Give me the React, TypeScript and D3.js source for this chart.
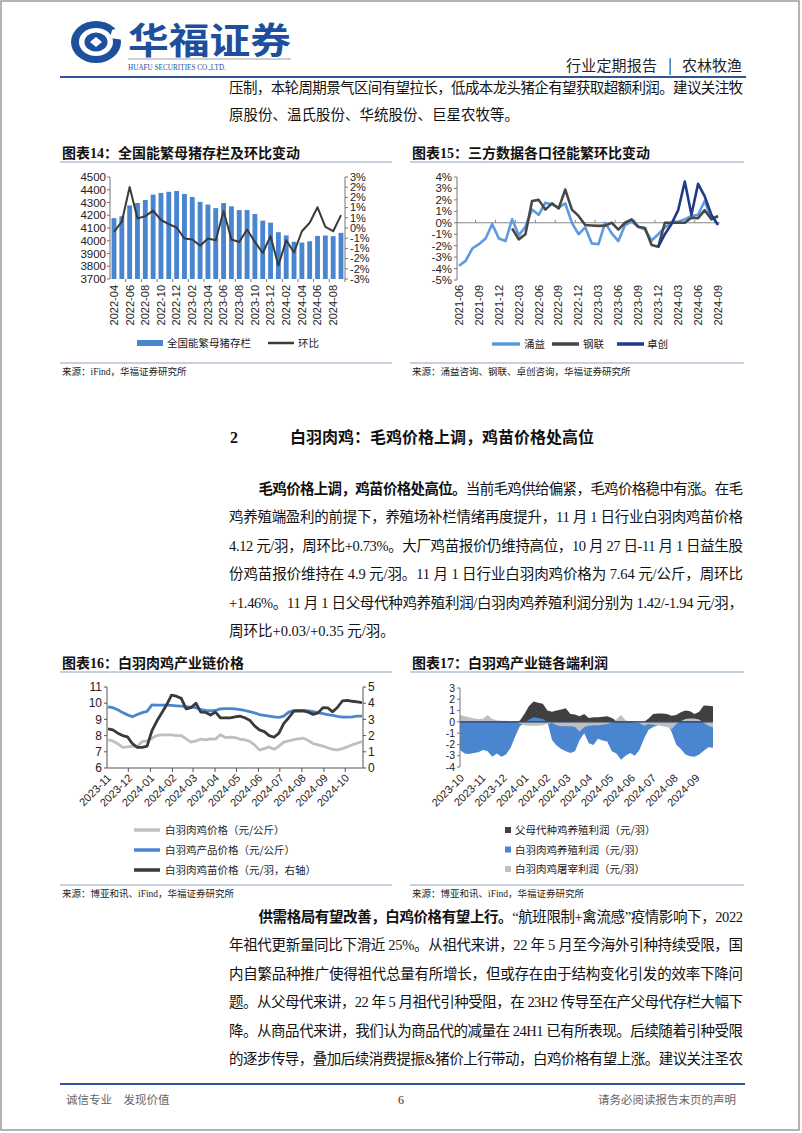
import React from 'react';
import * as d3 from 'd3';

const SANS = "'Liberation Sans', Arial, sans-serif";
const CJK = "'Noto Sans CJK SC', sans-serif";
const BODY = "'Liberation Serif', 'Noto Sans CJK SC', serif";

const BLUE = '#4a86d0';
const LIGHTBLUE = '#5b9be0';
const DARK = '#3a3a3a';
const NAVY = '#1f3c8c';
const GREY = '#bfbfbf';
const RULE = '#8ea3c2';

// ---------- Chart 14 ----------
const sowMonths = ['2022-04','2022-05','2022-06','2022-07','2022-08','2022-09','2022-10','2022-11','2022-12',
  '2023-01','2023-02','2023-03','2023-04','2023-05','2023-06','2023-07','2023-08','2023-09','2023-10','2023-11','2023-12',
  '2024-01','2024-02','2024-03','2024-04','2024-05','2024-06','2024-07','2024-08','2024-09'];
const sowStock = [4177,4192,4277,4296,4320,4362,4375,4384,4390,4367,4343,4305,4284,4256,4296,4270,4240,4241,4210,4158,4142,4067,4042,3992,3986,3996,4038,4041,4036,4062];
const sowMoM = [-0.23,0.37,2.41,0.56,0.70,1.02,0.47,0.23,0.03,-0.62,-0.68,-1.04,-0.62,-0.72,1.0,-0.68,-0.82,-0.09,-0.82,-1.47,-0.48,-2.21,-0.72,-1.44,-0.19,0.31,1.22,0.07,-0.19,0.76];
const sowTickLabels = ['2022-04','2022-06','2022-08','2022-10','2022-12','2023-02','2023-04','2023-06','2023-08','2023-10','2023-12','2024-02','2024-04','2024-06','2024-08'];
const sowLeftTicks = [3700,3800,3900,4000,4100,4200,4300,4400,4500];
const sowRightTicks = [3,2.4,1.8,1.2,0.6,0,-0.6,-1.2,-1.8,-2.4,-3];
const sowRightLabels = ['3%','2%','2%','1%','1%','0%','-1%','-1%','-2%','-2%','-3%'];

// ---------- Chart 15 ----------
const thirdMonths = ['2021-06','2021-07','2021-08','2021-09','2021-10','2021-11','2021-12',
  '2022-01','2022-02','2022-03','2022-04','2022-05','2022-06','2022-07','2022-08','2022-09','2022-10','2022-11','2022-12',
  '2023-01','2023-02','2023-03','2023-04','2023-05','2023-06','2023-07','2023-08','2023-09','2023-10','2023-11','2023-12',
  '2024-01','2024-02','2024-03','2024-04','2024-05','2024-06','2024-07','2024-08','2024-09'];
const yongyi = [-3.76,-3.33,-2.25,-1.87,-1.38,-0.12,-1.38,-1.6,0.3,-1.1,-0.35,1.15,0.7,1.75,1.6,1.33,1.7,0.0,-1.0,-0.4,
  -1.8,-1.87,0.0,-0.93,-1.6,-0.2,0.1,-0.35,-0.6,-1.55,-1.0,-0.4,0.0,0.1,0.3,0.6,0.7,1.9,0.4,0.5];
const ganglian: (number | null)[] = [null,null,null,null,null,null,null,null,-0.5,-1.45,-1.0,1.9,2.0,1.15,1.7,1.25,2.9,1.15,0.6,-0.2,
  -0.24,-0.27,-0.25,0.0,-0.6,0.0,0.3,-0.35,-0.45,-1.95,-2.1,0.0,0.0,0.0,0.0,0.45,0.4,1.1,0.3,0.6];
const zhuochuang: (number | null)[] = [null,null,null,null,null,null,null,null,null,null,null,null,null,null,null,null,null,null,null,null,
  null,null,null,null,null,null,null,null,null,null,-2.1,-1.0,-0.1,1.1,3.6,0.7,3.4,2.3,0.7,-0.2];
const thirdTickLabels = ['2021-06','2021-09','2021-12','2022-03','2022-06','2022-09','2022-12','2023-03','2023-06','2023-09','2023-12','2024-03','2024-06','2024-09'];
const thirdYTicks = [4,3,2,1,0,-1,-2,-3,-4,-5];

// ---------- Chart 16 (weekly) ----------
const chickMonthLabels = ['2023-11','2023-12','2024-01','2024-02','2024-03','2024-04','2024-05','2024-06','2024-07','2024-08','2024-09','2024-10'];
const broilerPrice = [7.73,7.67,7.5,7.27,7.3,7.35,7.33,7.63,7.67,7.84,8.0,8.04,8.04,8.04,8.0,8.0,7.8,7.6,7.67,7.78,7.73,7.8,7.78,8.05,7.88,7.9,7.88,7.78,7.73,7.65,
  7.43,7.1,7.2,7.3,7.15,7.35,7.6,7.67,7.75,7.8,7.84,7.7,7.5,7.43,7.35,7.25,7.15,7.12,7.2,7.3,7.43,7.53,7.63];
const productPrice = [9.78,9.72,9.6,9.42,9.28,9.16,9.3,9.42,9.5,9.9,9.88,9.88,9.88,9.86,9.84,9.82,9.78,9.76,9.72,9.6,9.55,9.52,9.55,9.65,9.67,9.67,9.65,9.6,9.55,9.48,
  9.4,9.3,9.25,9.2,9.15,9.12,9.2,9.45,9.55,9.56,9.55,9.52,9.48,9.42,9.35,9.3,9.25,9.18,9.14,9.14,9.16,9.2,9.2];
const chickPrice = [2.41,2.35,2.15,2.0,1.92,1.5,1.27,1.27,1.35,2.3,2.9,3.4,3.9,4.5,4.43,4.3,3.65,3.73,4.0,3.45,3.43,3.27,3.45,3.1,3.1,3.1,3.15,3.2,3.1,2.95,
  2.6,2.35,2.25,2.0,1.9,2.15,2.75,3.1,3.5,3.52,3.53,3.45,3.31,3.4,3.73,3.71,3.47,3.75,4.15,4.18,4.12,4.08,4.04];
const chickLeftTicks = [6,7,8,9,10,11];
const chickRightTicks = [0,1,2,3,4,5];

// ---------- Chart 17 (weekly) ----------
const profitMonthLabels = ['2023-10','2023-11','2023-12','2024-01','2024-02','2024-03','2024-04','2024-05','2024-06','2024-07','2024-08','2024-09'];
const parentProfit = [0,0,0,0,0,0,0,0,0,0,0,0,0,0.1,0.7,1.4,1.8,1.7,1.6,1.0,0.9,1.0,1.1,1.2,0.7,0.65,0.5,0.7,0.35,0.4,
  0.4,0.45,0.5,0.35,0.1,0.05,0.05,0.05,0,0,0,0.3,0.7,0.75,0.75,0.7,0.55,0.6,0.85,1.0,0.95,0.7,0.9,1.45,1.42,1.38];
const broilerProfit = [-2.5,-2.8,-2.85,-2.75,-2.7,-2.5,-2.6,-3.1,-2.8,-3.1,-2.9,-2.3,-1.3,-0.4,-0.1,0.2,0.4,0.35,0.25,0.0,
  -1.6,-2.1,-2.4,-2.6,-2.75,-2.6,-1.6,-1.0,-1.9,-2.05,-1.5,-1.65,-1.75,-2.6,-2.8,-3.35,-3.0,-2.75,-3.0,-2.5,
  -1.5,-0.7,-0.45,-0.3,-0.15,-0.1,-0.9,-2.0,-2.4,-2.9,-3.05,-3.1,-2.9,-2.55,-2.25,-2.3];
const slaughterProfit = [0.6,0.5,0.4,0.3,0.25,0.28,0.6,0.25,0.15,0.1,0.1,0.05,0.0,-0.15,-0.3,-0.35,-0.35,-0.35,-0.3,-0.2,
  -0.1,-0.3,-0.4,-0.4,-0.4,-0.45,-0.85,-0.45,-0.35,-0.3,-0.3,-0.25,-0.2,-0.05,0.2,0.6,0.15,0.0,-0.05,-0.1,
  -0.35,-0.2,-0.25,-0.3,-0.4,-0.45,-0.65,-0.2,0.05,0.25,0.3,0.3,0.2,-0.1,-0.35,-0.5];
const profitTicks = [3,2,1,0,-1,-2,-3,-4];

// ---------- Text ----------
const introLines = ['压制，本轮周期景气区间有望拉长，低成本龙头猪企有望获取超额利润。建议关注牧', '原股份、温氏股份、华统股份、巨星农牧等。'];
const p1Bold = '毛鸡价格上调，鸡苗价格处高位。';
const p1First = '当前毛鸡供给偏紧，毛鸡价格稳中有涨。在毛';
const p1Lines = [
  '鸡养殖端盈利的前提下，养殖场补栏情绪再度提升，11 月 1 日行业白羽肉鸡苗价格',
  '4.12 元/羽，周环比+0.73%。大厂鸡苗报价仍维持高位，10 月 27 日-11 月 1 日益生股',
  '份鸡苗报价维持在 4.9 元/羽。11 月 1 日行业白羽肉鸡价格为 7.64 元/公斤，周环比',
  '+1.46%。11 月 1 日父母代种鸡养殖利润/白羽肉鸡养殖利润分别为 1.42/-1.94 元/羽，',
  '周环比+0.03/+0.35 元/羽。'];
const p2Bold = '供需格局有望改善，白鸡价格有望上行。';
const p2First = '“航班限制+禽流感”疫情影响下，2022';
const p2Lines = [
  '年祖代更新量同比下滑近 25%。从祖代来讲，22 年 5 月至今海外引种持续受限，国',
  '内自繁品种推广使得祖代总量有所增长，但或存在由于结构变化引发的效率下降问',
  '题。从父母代来讲，22 年 5 月祖代引种受阻，在 23H2 传导至在产父母代存栏大幅下',
  '降。从商品代来讲，我们认为商品代的减量在 24H1 已有所表现。后续随着引种受限',
  '的逐步传导，叠加后续消费提振&猪价上行带动，白鸡价格有望上涨。建议关注圣农'];

const TL = 229, TR = 743;

function BodyLine({ x, y, full, children }: any) {
  return (
    <text x={x} y={y} fontSize={14.5} fontFamily={BODY} fill="#111"
      {...(full ? { textLength: TR - x, lengthAdjust: 'spacing' } : {})}>{children}</text>
  );
}

function ChartFrame({ x0, x1, title, titleY, ruleY, bottomY, source }: any) {
  return (
    <g>
      <text x={x0 + 2} y={titleY} fontSize={14} fontWeight={700} fontFamily={BODY} fill="#111">{title}</text>
      <line x1={x0} x2={x1} y1={ruleY} y2={ruleY} stroke={RULE} strokeWidth={1.2} />
      <line x1={x0} x2={x1} y1={bottomY} y2={bottomY} stroke={RULE} strokeWidth={1.2} />
      <text x={x0 + 2} y={bottomY + 12} fontSize={9.5} fontFamily={BODY} fill="#222">{source}</text>
    </g>
  );
}

function Chart14() {
  const x = d3.scaleBand<string>().domain(sowMonths).range([110, 345]).paddingInner(0.38).paddingOuter(0.2);
  const yL = d3.scaleLinear().domain([3700, 4500]).range([279, 177]);
  const yR = d3.scaleLinear().domain([-3, 3]).range([279, 177]);
  const cx = (m: string) => (x(m) as number) + x.bandwidth() / 2;
  const line = d3.line<number>().x((_, i) => cx(sowMonths[i])).y(d => yR(d));
  return (
    <g>
      {sowStock.map((v, i) => (
        <rect key={i} x={x(sowMonths[i])} y={yL(v)} width={x.bandwidth()} height={yL(3700) - yL(v)} fill={BLUE} />
      ))}
      <line x1={110} x2={110} y1={yL(4500)} y2={yL(3700)} stroke="#777" />
      <line x1={345} x2={345} y1={yR(3)} y2={yR(-3)} stroke="#777" />
      {sowLeftTicks.map(t => (
        <g key={t}>
          <line x1={107} x2={110} y1={yL(t)} y2={yL(t)} stroke="#777" />
          <text x={106} y={yL(t)} dy="0.35em" textAnchor="end" fontSize={11.5} fontFamily={SANS} fill="#222">{t}</text>
        </g>
      ))}
      {sowRightTicks.map((t, i) => (
        <g key={i}>
          <line x1={345} x2={348} y1={yR(t)} y2={yR(t)} stroke="#777" />
          <text x={350} y={yR(t)} dy="0.35em" fontSize={11} fontFamily={SANS} fill="#222">{sowRightLabels[i]}</text>
        </g>
      ))}
      {sowMonths.map((m, i) => i % 2 === 1 ? (
        <line key={m} x1={(x(m) as number) + x.step() - x.step() * 0.19} x2={(x(m) as number) + x.step() - x.step() * 0.19} y1={279} y2={282} stroke="#777" />
      ) : null)}
      <path d={line(sowMoM) || ''} fill="none" stroke={DARK} strokeWidth={2} strokeLinejoin="round" />
      {sowTickLabels.map(m => (
        <text key={m} transform={`translate(${cx(m)},285) rotate(-90)`} textAnchor="end" dy="0.35em" fontSize={11} fontFamily={SANS} fill="#222">{m}</text>
      ))}
      <rect x={137} y={340} width={26} height={6} fill={BLUE} />
      <text x={167} y={347} fontSize={10.5} fontFamily={CJK} fill="#222">全国能繁母猪存栏</text>
      <line x1={268} x2={294} y1={343} y2={343} stroke={DARK} strokeWidth={2.5} />
      <text x={298} y={347} fontSize={10.5} fontFamily={CJK} fill="#222">环比</text>
    </g>
  );
}

function Chart15() {
  const x = d3.scalePoint<string>().domain(thirdMonths).range([459, 718]);
  const y = d3.scaleLinear().domain([-5, 4]).range([280, 177]);
  const mk = () => d3.line<number | null>().defined(d => d !== null).x((_, i) => x(thirdMonths[i]) as number).y(d => y(d as number));
  const step = x.step();
  return (
    <g>
      <line x1={457} x2={457} y1={y(4)} y2={y(-5)} stroke="#777" />
      {thirdYTicks.map(t => (
        <g key={t}>
          <line x1={454} x2={457} y1={y(t)} y2={y(t)} stroke="#777" />
          <text x={452} y={y(t)} dy="0.35em" textAnchor="end" fontSize={11.5} fontFamily={SANS} fill="#222">{`${t}%`}</text>
        </g>
      ))}
      <line x1={457} x2={720} y1={y(0)} y2={y(0)} stroke="#888" />
      {thirdMonths.map((m, i) => i % 3 === 2 ? (
        <line key={m} x1={(x(m) as number) + step / 2} x2={(x(m) as number) + step / 2} y1={y(0)} y2={y(0) - 3} stroke="#888" />
      ) : null)}
      <path d={mk()(yongyi) || ''} fill="none" stroke={LIGHTBLUE} strokeWidth={2.6} strokeLinejoin="round" />
      <path d={mk()(ganglian) || ''} fill="none" stroke="#474747" strokeWidth={2.6} strokeLinejoin="round" />
      <path d={mk()(zhuochuang) || ''} fill="none" stroke={NAVY} strokeWidth={2.6} strokeLinejoin="round" />
      {thirdTickLabels.map(m => (
        <text key={m} transform={`translate(${x(m)},285) rotate(-90)`} textAnchor="end" dy="0.35em" fontSize={11} fontFamily={SANS} fill="#222">{m}</text>
      ))}
      <line x1={492} x2={520} y1={344} y2={344} stroke={LIGHTBLUE} strokeWidth={3.5} />
      <text x={524} y={348} fontSize={10.5} fontFamily={CJK} fill="#222">涌益</text>
      <line x1={552} x2={579} y1={344} y2={344} stroke="#474747" strokeWidth={3.5} />
      <text x={583} y={348} fontSize={10.5} fontFamily={CJK} fill="#222">钢联</text>
      <line x1={617} x2={644} y1={344} y2={344} stroke={NAVY} strokeWidth={3.5} />
      <text x={647} y={348} fontSize={10.5} fontFamily={CJK} fill="#222">卓创</text>
    </g>
  );
}

const parseMonth = d3.timeParse('%Y-%m');

function Chart16() {
  const xi = d3.scaleLinear().domain([0, broilerPrice.length - 1]).range([108, 362]);
  const xt = d3.scaleTime().domain([new Date(2023, 10, 1), new Date(2024, 9, 26)]).range([107, 363]);
  const yL = d3.scaleLinear().domain([6, 11]).range([768, 687]);
  const yR = d3.scaleLinear().domain([0, 5]).range([768, 687]);
  const lineL = d3.line<number>().x((_, i) => xi(i)).y(d => yL(d));
  const lineR = d3.line<number>().x((_, i) => xi(i)).y(d => yR(d));
  const months = chickMonthLabels.map(m => parseMonth(m) as Date);
  return (
    <g>
      <line x1={107} x2={107} y1={687} y2={768} stroke="#555" />
      <line x1={363} x2={363} y1={687} y2={768} stroke="#555" />
      <line x1={107} x2={363} y1={768} y2={768} stroke="#555" />
      {chickLeftTicks.map(t => (
        <g key={t}>
          <line x1={104} x2={107} y1={yL(t)} y2={yL(t)} stroke="#555" />
          <text x={102} y={yL(t)} dy="0.35em" textAnchor="end" fontSize={12} fontFamily={SANS} fill="#222">{t}</text>
        </g>
      ))}
      {chickRightTicks.map(t => (
        <g key={t}>
          <line x1={363} x2={366} y1={yR(t)} y2={yR(t)} stroke="#555" />
          <text x={368} y={yR(t)} dy="0.35em" fontSize={12} fontFamily={SANS} fill="#222">{t}</text>
        </g>
      ))}
      {months.slice(1).map((d, i) => (
        <line key={i} x1={xt(d)} x2={xt(d)} y1={768} y2={772} stroke="#555" />
      ))}
      <path d={lineL(broilerPrice) || ''} fill="none" stroke={GREY} strokeWidth={2.8} strokeLinejoin="round" />
      <path d={lineL(productPrice) || ''} fill="none" stroke={BLUE} strokeWidth={2.8} strokeLinejoin="round" />
      <path d={lineR(chickPrice) || ''} fill="none" stroke={DARK} strokeWidth={2.8} strokeLinejoin="round" />
      {chickMonthLabels.map((m, i) => (
        <text key={m} transform={`translate(${xt(months[i]) + 2},776) rotate(-45)`} textAnchor="end" dy="0.35em" fontSize={11} fontFamily={SANS} fill="#222">{m}</text>
      ))}
      {[['白羽肉鸡价格（元/公斤）', GREY], ['白羽鸡产品价格（元/公斤）', BLUE], ['白羽肉鸡苗价格（元/羽，右轴）', DARK]].map(([t, c], i) => (
        <g key={t}>
          <line x1={134} x2={160} y1={830 + i * 20} y2={830 + i * 20} stroke={c} strokeWidth={3.5} />
          <text x={165} y={834 + i * 20} fontSize={10.5} fontFamily={CJK} fill="#222">{t}</text>
        </g>
      ))}
    </g>
  );
}

function Chart17() {
  const xi = d3.scaleLinear().domain([0, broilerProfit.length - 1]).range([460, 713]);
  const xt = d3.scaleTime().domain([new Date(2023, 9, 1), new Date(2024, 8, 26)]).range([460, 713]);
  const y = d3.scaleLinear().domain([-4, 3]).range([767, 688]);
  const area = d3.area<number>().x((_, i) => xi(i)).y0(y(0)).y1(d => y(d));
  const months = profitMonthLabels.map(m => parseMonth(m) as Date);
  return (
    <g>
      <path d={area(parentProfit) || ''} fill="#404040" />
      <path d={area(broilerProfit) || ''} fill={BLUE} />
      <path d={area(slaughterProfit) || ''} fill={GREY} />
      <line x1={460} x2={460} y1={688} y2={767} stroke="#777" />
      {profitTicks.map(t => (
        <g key={t}>
          <line x1={457} x2={460} y1={y(t)} y2={y(t)} stroke="#777" />
          <text x={455} y={y(t)} dy="0.35em" textAnchor="end" fontSize={10.5} fontFamily={SANS} fill="#222">{t}</text>
        </g>
      ))}
      <line x1={460} x2={713} y1={y(0)} y2={y(0)} stroke="#23365e" strokeWidth={1.2} />
      {profitMonthLabels.map((m, i) => (
        <text key={m} transform={`translate(${xt(months[i]) + 2},776) rotate(-45)`} textAnchor="end" dy="0.35em" fontSize={11} fontFamily={SANS} fill="#222">{m}</text>
      ))}
      {[['父母代种鸡养殖利润（元/羽）', '#404040'], ['白羽肉鸡养殖利润（元/羽）', BLUE], ['白羽肉鸡屠宰利润（元/羽）', GREY]].map(([t, c], i) => (
        <g key={t}>
          <rect x={505} y={827 + i * 19.5} width={6} height={6} fill={c} />
          <text x={515} y={834 + i * 19.5} fontSize={10.5} fontFamily={CJK} fill="#222">{t}</text>
        </g>
      ))}
    </g>
  );
}

function Header() {
  return (
    <g>
      <ellipse cx={96} cy={42} rx={25} ry={21} fill="#1d4f9c" />
      <ellipse cx={96} cy={42} rx={17} ry={14} fill="#fff" />
      <path d="M112,30 L124,26 L124,40 L110,38 Z" fill="#fff" />
      <ellipse cx={96} cy={42} rx={11.5} ry={9.5} fill="#1d4f9c" />
      <path d="M90,42 L96,37 L102,42 L96,47 Z" fill="#fff" />
      <text x={128} y={54} fontSize={36} fontWeight={700} fontFamily={CJK} fill="#1d4f9c" textLength={163} lengthAdjust="spacingAndGlyphs">华福证券</text>
      <line x1={128} x2={291} y1={59} y2={59} stroke="#888" strokeWidth={0.8} />
      <text x={128} y={70} fontSize={8.5} fontFamily={BODY} fill="#1d4f9c" textLength={98} lengthAdjust="spacingAndGlyphs">HUAFU SECURITIES CO.,LTD.</text>
      <text x={566} y={71} fontSize={15} fontFamily={CJK} fill="#222" textLength={91} lengthAdjust="spacing">行业定期报告</text>
      <text x={670} y={71} textAnchor="middle" fontSize={15} fontFamily={CJK} fill="#222">|</text>
      <text x={742} y={71} textAnchor="end" fontSize={15} fontFamily={CJK} fill="#222">农林牧渔</text>
      <line x1={60} x2={746} y1={77} y2={77} stroke="#2f5597" strokeWidth={2} />
    </g>
  );
}

export default function App() {
  const p1Y = [489, 517.4, 545.8, 574.2, 602.6, 631];
  const p2Y = [917, 945.4, 973.8, 1002.2, 1030.6, 1059];
  return (
    <svg width={802} height={1133} viewBox="0 0 802 1133" style={{ position: 'absolute', left: 0, top: 0, background: '#fff' }}>
      <rect x={0} y={0} width={802} height={1133} fill="#fff" />
      <rect x={1} y={1} width={798} height={1129} fill="none" stroke="#9a9a9a" strokeWidth={1.5} />
      <Header />
      <BodyLine x={TL} y={93} full>{introLines[0]}</BodyLine>
      <BodyLine x={TL} y={120}>{introLines[1]}</BodyLine>

      <ChartFrame x0={60} x1={392} title="图表14：全国能繁母猪存栏及环比变动" titleY={158} ruleY={162} bottomY={363} source="来源：iFind，华福证券研究所" />
      <ChartFrame x0={410} x1={744} title="图表15：三方数据各口径能繁环比变动" titleY={158} ruleY={162} bottomY={363} source="来源：涌益咨询、钢联、卓创咨询，华福证券研究所" />
      <Chart14 />
      <Chart15 />

      <text x={230} y={443} fontSize={16} fontWeight={700} fontFamily={BODY} fill="#111">2</text>
      <text x={290} y={443} fontSize={16} fontWeight={700} fontFamily={BODY} fill="#111">白羽肉鸡：毛鸡价格上调，鸡苗价格处高位</text>

      <text x={258.5} y={p1Y[0] + 5} fontSize={14.5} fontFamily={BODY} fill="#111" textLength={TR - 258.5} lengthAdjust="spacing">
        <tspan fontWeight={700}>{p1Bold}</tspan><tspan>{p1First}</tspan>
      </text>
      {p1Lines.map((t, i) => (
        <BodyLine key={i} x={TL} y={p1Y[i + 1] + 5} full={i < p1Lines.length - 1}>{t}</BodyLine>
      ))}

      <ChartFrame x0={60} x1={392} title="图表16：白羽肉鸡产业链价格" titleY={668} ruleY={672} bottomY={885} source="来源：博亚和讯、iFind，华福证券研究所" />
      <ChartFrame x0={410} x1={744} title="图表17：白羽鸡产业链各端利润" titleY={668} ruleY={672} bottomY={885} source="来源：博亚和讯、iFind，华福证券研究所" />
      <Chart16 />
      <Chart17 />

      <text x={258.5} y={p2Y[0] + 5} fontSize={14.5} fontFamily={BODY} fill="#111" textLength={TR - 258.5} lengthAdjust="spacing">
        <tspan fontWeight={700}>{p2Bold}</tspan><tspan>{p2First}</tspan>
      </text>
      {p2Lines.map((t, i) => (
        <BodyLine key={i} x={TL} y={p2Y[i + 1] + 5} full>{t}</BodyLine>
      ))}

      <line x1={60} x2={745} y1={1084} y2={1084} stroke="#2f5597" strokeWidth={2} />
      <text x={66} y={1104} fontSize={11.5} fontFamily={CJK} fill="#666">诚信专业　发现价值</text>
      <text x={401} y={1104} textAnchor="middle" fontSize={12} fontFamily={BODY} fill="#333">6</text>
      <text x={736} y={1104} textAnchor="end" fontSize={11.5} fontFamily={CJK} fill="#666">请务必阅读报告末页的声明</text>
    </svg>
  );
}
